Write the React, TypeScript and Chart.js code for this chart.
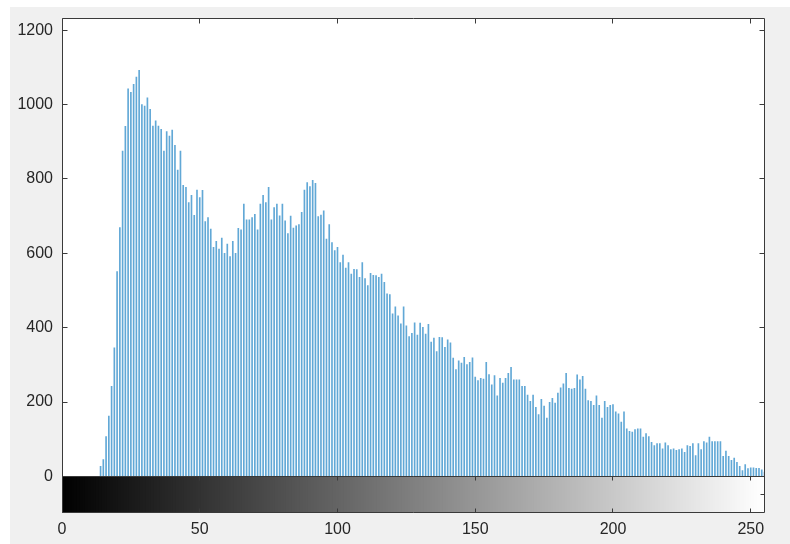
import React, { useEffect, useRef } from "react";
import { Chart, registerables } from "chart.js";

Chart.register(...registerables);

// Histogram counts for gray levels 0..255
const binCounts: number[] = [
  0, 0, 0, 0, 0, 0, 0, 0, 0, 0, 0, 0, 0, 0,
  27, 45, 107, 162, 242, 346, 551, 669, 875, 941,
  1042, 1033, 1054, 1074, 1092, 1000, 996, 1018, 987, 942,
  956, 942, 933, 875, 927, 915, 931, 890, 824, 875,
  783, 777, 736, 756, 702, 770, 750, 769, 685, 696,
  665, 616, 632, 611, 641, 600, 625, 591, 632, 600,
  667, 663, 732, 690, 690, 696, 705, 663, 732, 756,
  736, 777, 690, 723, 732, 701, 732, 687, 653, 700,
  668, 674, 677, 710, 770, 790, 779, 796, 788, 699,
  703, 714, 638, 677, 629, 607, 616, 575, 595, 560,
  575, 544, 557, 556, 535, 575, 532, 513, 546, 541,
  540, 535, 544, 522, 491, 489, 437, 456, 432, 410,
  456, 405, 376, 385, 413, 380, 412, 401, 383, 409,
  361, 372, 336, 374, 373, 347, 367, 359, 318, 287,
  311, 305, 320, 301, 307, 319, 267, 258, 264, 262,
  307, 274, 246, 271, 217, 264, 251, 264, 277, 293,
  260, 260, 260, 242, 242, 219, 202, 219, 186, 166,
  207, 189, 157, 199, 210, 197, 224, 238, 249, 277,
  237, 235, 237, 273, 260, 269, 235, 204, 202, 191,
  217, 191, 157, 202, 186, 191, 193, 174, 168, 146,
  174, 128, 121, 119, 126, 128, 128, 106, 115, 107,
  92, 83, 88, 88, 74, 90, 83, 72, 74, 70,
  72, 74, 65, 83, 81, 88, 56, 88, 72, 94,
  90, 106, 94, 94, 94, 94, 54, 68, 54, 43,
  49, 38, 27, 16, 32, 21, 23, 23, 22, 22,
  18, 12,
];

// Gray levels (categories) 0..255
const grayLevels: number[] = binCounts.map((_, i) => i);

const xTickValues: number[] = [0, 50, 100, 150, 200, 250];
const yTickValues: number[] = [0, 200, 400, 600, 800, 1000, 1200];

const X_MIN = 0;
const X_MAX = 255;
const Y_MAX = 1231;
const Y_MIN = -97; // bottom of the gray colour bar

const FONT_FAMILY = "'Liberation Sans', Arial, Helvetica, sans-serif";
const TEXT_COLOR = "#262626";

export default function App() {
  const canvasRef = useRef<HTMLCanvasElement | null>(null);

  useEffect(() => {
    const canvas = canvasRef.current;
    if (!canvas) return;

    const framePlugin = {
      id: "matlabFrame",
      beforeDraw(chart: any) {
        const { ctx, width, height, chartArea } = chart;
        ctx.save();
        ctx.fillStyle = "#ffffff";
        ctx.fillRect(0, 0, width, height);
        ctx.fillStyle = "#f0f0f0";
        ctx.fillRect(10, 7, width - 10, height - 7);
        ctx.fillStyle = "#ffffff";
        ctx.fillRect(
          chartArea.left,
          chartArea.top,
          chartArea.right - chartArea.left,
          chartArea.bottom - chartArea.top
        );
        ctx.restore();
      },
      afterDraw(chart: any) {
        const { ctx, chartArea } = chart;
        const xs = chart.scales.x;
        const ys = chart.scales.y;
        const crisp = (v: number) => Math.round(v - 0.5) + 0.5;
        const L = crisp(chartArea.left);
        const R = crisp(chartArea.right);
        const T = crisp(chartArea.top);
        const B = crisp(chartArea.bottom);
        const Z = crisp(ys.getPixelForValue(0));
        ctx.save();
        ctx.strokeStyle = "#3a3a3a";
        ctx.lineWidth = 1;
        ctx.beginPath();
        ctx.rect(L, T, R - L, B - T);
        ctx.moveTo(L, Z);
        ctx.lineTo(R, Z);
        // y ticks (inward, both sides)
        for (const v of yTickValues) {
          const py = crisp(ys.getPixelForValue(v));
          ctx.moveTo(L, py);
          ctx.lineTo(L + 5, py);
          ctx.moveTo(R, py);
          ctx.lineTo(R - 5, py);
        }
        // x ticks
        for (const v of xTickValues) {
          const px = crisp(xs.getPixelForValue(v));
          ctx.moveTo(px, T);
          ctx.lineTo(px, T + 5);
          ctx.moveTo(px, Z);
          ctx.lineTo(px, Z + 4);
          ctx.moveTo(px, B);
          ctx.lineTo(px, B - 4);
        }
        const mid = crisp((Z + B) / 2);
        ctx.moveTo(R, mid);
        ctx.lineTo(R - 4, mid);
        ctx.stroke();
        ctx.restore();
      },
    };

    const chart = new Chart(canvas, {
      type: "bar",
      data: {
        datasets: [
          {
            label: "colorbar",
            data: grayLevels.map((g) => ({ x: g, y: [Y_MIN, 0] })) as any,
            backgroundColor: grayLevels.map((g) => `rgb(${g},${g},${g})`),
            borderWidth: 0,
            barThickness: 3.3,
            grouped: false,
            order: 2,
          } as any,
          {
            label: "counts",
            data: grayLevels.map((g, i) => ({ x: g, y: binCounts[i] })) as any,
            backgroundColor: "rgba(0,114,189,0.62)",
            borderWidth: 0,
            barThickness: 1,
            grouped: false,
            order: 1,
          } as any,
        ],
      },
      options: {
        responsive: false,
        animation: false,
        events: [],
        layout: { padding: { left: 0, top: 17.5, right: 25.5, bottom: 0 } },
        plugins: {
          legend: { display: false },
          tooltip: { enabled: false },
        },
        scales: {
          x: {
            type: "linear",
            min: X_MIN,
            max: X_MAX,
            offset: false,
            grid: { display: false, drawTicks: false, offset: false },
            border: { display: false },
            ticks: {
              padding: 7,
              color: TEXT_COLOR,
              font: { family: FONT_FAMILY, size: 16 },
              maxRotation: 0,
              callback: (v: any) => String(v),
            },
            afterBuildTicks: (s: any) => {
              s.ticks = xTickValues.map((v) => ({ value: v }));
            },
            afterFit: (s: any) => {
              s.height = 31.5;
            },
          },
          y: {
            type: "linear",
            min: Y_MIN,
            max: Y_MAX,
            grid: { display: false, drawTicks: false },
            border: { display: false },
            ticks: {
              padding: 9,
              color: TEXT_COLOR,
              font: { family: FONT_FAMILY, size: 16 },
              callback: (v: any) => String(v),
            },
            afterBuildTicks: (s: any) => {
              s.ticks = yTickValues.map((v) => ({ value: v }));
            },
            afterFit: (s: any) => {
              s.width = 62;
            },
          },
        },
      } as any,
      plugins: [framePlugin],
    });

    return () => {
      chart.destroy();
    };
  }, []);

  return (
    <div
      style={{
        position: "absolute",
        left: 0,
        top: 0,
        width: 790,
        height: 544,
        background: "#ffffff",
        overflow: "hidden",
      }}
    >
      <canvas
        ref={canvasRef}
        width={790}
        height={544}
        style={{ display: "block", width: 790, height: 544 }}
      />
    </div>
  );
}
